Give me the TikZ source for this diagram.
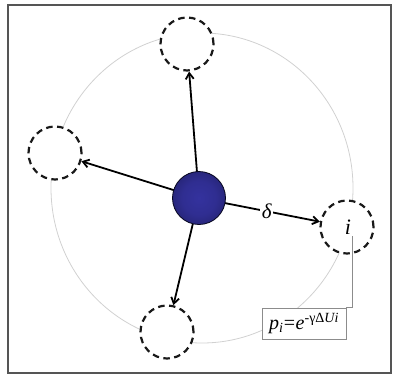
\documentclass[tikz,border=0pt]{standalone}
\usepackage{fontspec}
\setmainfont{Liberation Serif}
\usetikzlibrary{arrows.meta,shapes.geometric}
\definecolor{sphin}{RGB}{52,50,158}
\definecolor{sphout}{RGB}{6,6,30}
\definecolor{framec}{RGB}{85,85,85}
\pgfdeclareradialshading{sphshade}{\pgfpoint{0bp}{0bp}}{color(0bp)=(sphin); color(16bp)=(sphin!90!sphout); color(30bp)=(sphin!65!sphout); color(40bp)=(sphin!35!sphout); color(46bp)=(sphin!10!sphout); color(50bp)=(sphout)}
\tikzset{
  site/.style={circle, draw=black!90, fill=white, dashed, dash pattern=on 6.5pt off 4.5pt, line width=2.2pt, minimum size=53pt, inner sep=0pt},
  hop/.style={-{Straight Barb[length=6pt,width=8pt]}, line width=1.8pt, black},
  orbit/.style={draw=black!18, line width=0.8pt},
  callout/.style={draw=black!45, line width=0.7pt},
  probbox/.style={draw=black!45, fill=white, line width=0.8pt, minimum width=84pt, minimum height=31pt, inner sep=0pt}
}
\begin{document}
\begin{tikzpicture}[x=1pt,y=-1pt]
\useasboundingbox (0,0) rectangle (393,376);
\draw[framec, line width=1.4pt] (8,5) rectangle (391,373);
\draw[orbit] (202,188) ellipse [x radius=151, y radius=155];
\node[site] (t) at (187,44) {};
\node[site] (l) at (55,153) {};
\node[site] (b) at (167,332) {};
\node[site, font=\fontsize{22}{22}\selectfont\itshape] (r) at (347,227) {\hspace{2pt}i};
\coordinate (s) at (199,198);
\node[probbox, font=\fontsize{20}{20}\selectfont] (box) at (304,323.5) {\textit{p}\textsubscript{\textit{i}}\kern0.5pt=\kern0.5pt\textit{e}\textsuperscript{-γΔ\textit{Ui}}};
\coordinate (c1) at (352,236);
\draw[callout] (c1) |- (box.north east);
\draw[hop] (s) -- (t);
\draw[hop] (s) -- (l);
\draw[hop] (s) -- (b);
\draw[hop] (s) -- node[pos=0.56, fill=white, inner sep=1.5pt, font=\fontsize{21}{21}\selectfont\itshape] (d) {δ} (r);
\node[circle, minimum size=53pt, inner sep=0pt, shading=sphshade, draw=sphout, line width=0.8pt] (sph) at (s) {};
\end{tikzpicture}
\end{document}
